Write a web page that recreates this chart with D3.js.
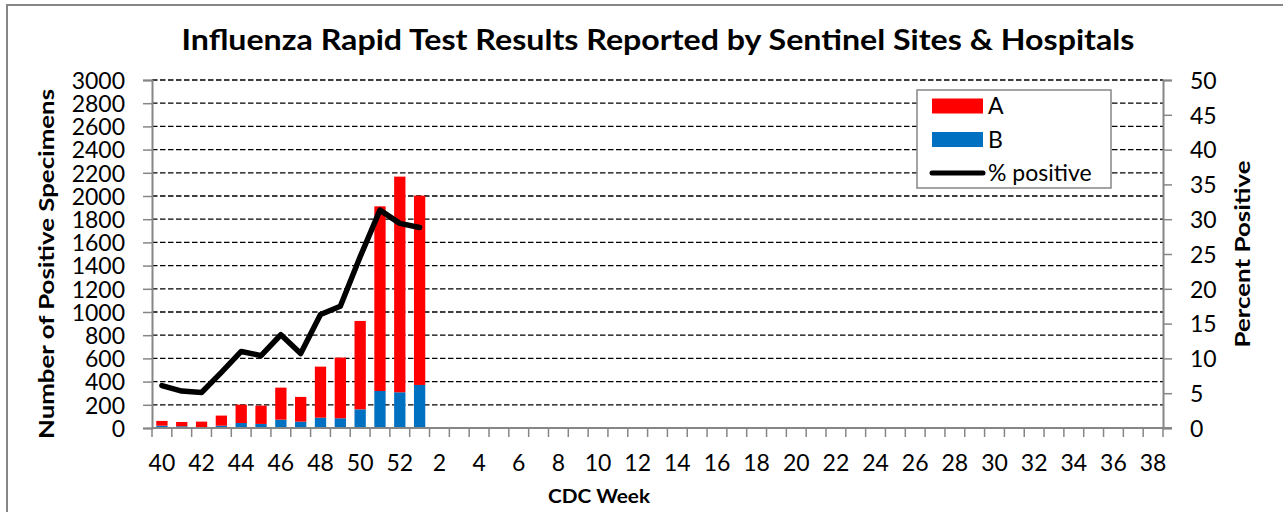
<!DOCTYPE html>
<html>
<head>
<meta charset="utf-8">
<script src="https://cdn.jsdelivr.net/npm/d3@7"></script>
<style>
  body { margin: 0; background: #fff; }
  svg { display: block; font-family: Lato, "Open Sans", sans-serif; }
</style>
</head>
<body>
<svg width="1283" height="512"></svg>
<script>
'use strict';

// CDC weeks of the season (40..52, then 1..38)
const weeks = [40, 41, 42, 43, 44, 45, 46, 47, 48, 49, 50, 51, 52,
    1, 2, 3, 4, 5, 6, 7, 8, 9, 10, 11, 12, 13, 14, 15, 16, 17, 18, 19, 20,
    21, 22, 23, 24, 25, 26, 27, 28, 29, 30, 31, 32, 33, 34, 35, 36, 37, 38];

// reported so far (weeks 40 .. 1)
const fluA = [41, 37, 52, 87, 158, 158, 276, 213, 440, 523, 762, 1592, 1859, 1632];
const fluB = [20, 15, 3, 20, 43, 35, 72, 55, 89, 84, 161, 319, 308, 371];
const pctPositive = [6.1, 5.3, 5.1, 8.0, 11.0, 10.4, 13.4, 10.7, 16.3, 17.5, 24.6, 31.3, 29.4, 28.8];

const countTicks = d3.range(0, 3001, 200);
const pctTicks = d3.range(0, 51, 5);
const weekLabels = weeks.filter((w, i) => i % 2 === 0);

const colors = { a: "#ff0000", b: "#0070c0", line: "#000000", axis: "#868686" };

const svg = d3.select("svg");
const width = +svg.attr("width"), height = +svg.attr("height");
const plot = { left: 152, right: 1163, top: 80, bottom: 428 };

// outer chart border (runs off the right and bottom edge)
svg.append("rect")
    .attr("x", 7).attr("y", 5)
    .attr("width", width + 20).attr("height", height + 20)
    .attr("fill", "none").attr("stroke", colors.axis).attr("stroke-width", 2);

const x = d3.scaleBand().domain(weeks).range([plot.left, plot.right])
    .paddingInner(0.43).paddingOuter(0.215);
const y = d3.scaleLinear().domain([0, 3000]).range([plot.bottom, plot.top]);
const yp = d3.scaleLinear().domain([0, 50]).range([plot.bottom, plot.top]);

const rows = fluA.map((a, i) => ({ week: weeks[i], a: a, b: fluB[i], p: pctPositive[i] }));

// gridlines
svg.append("g")
    .selectAll("line")
    .data(countTicks)
    .join("line")
    .attr("x1", plot.left).attr("x2", plot.right)
    .attr("y1", d => y(d)).attr("y2", d => y(d))
    .attr("stroke", "#000").attr("stroke-width", 1.3)
    .attr("stroke-dasharray", "5.5,2.5");

// stacked bars: B at the bottom, A on top
const stacked = d3.stack().keys(["b", "a"])(rows);
svg.append("g")
    .selectAll("g")
    .data(stacked)
    .join("g")
    .attr("fill", d => colors[d.key])
    .selectAll("rect")
    .data(d => d)
    .join("rect")
    .attr("x", d => x(d.data.week))
    .attr("width", x.bandwidth())
    .attr("y", d => y(d[1]))
    .attr("height", d => y(d[0]) - y(d[1]));

// axes
const leftAxis = svg.append("g")
    .attr("transform", `translate(${plot.left},0)`)
    .call(d3.axisLeft(y).tickValues(countTicks).tickFormat(d3.format("d"))
        .tickSize(9).tickPadding(18));
const rightAxis = svg.append("g")
    .attr("transform", `translate(${plot.right},0)`)
    .call(d3.axisRight(yp).tickValues(pctTicks).tickFormat(d3.format("d"))
        .tickSize(9).tickPadding(18));
const bottomAxis = svg.append("g")
    .attr("transform", `translate(0,${plot.bottom})`)
    .call(d3.axisBottom(x).tickSize(0).tickPadding(27)
        .tickValues(weekLabels));

[leftAxis, rightAxis, bottomAxis].forEach(g => {
    g.select(".domain").attr("stroke", colors.axis).attr("stroke-width", 2);
    g.selectAll(".tick line").attr("stroke", colors.axis).attr("stroke-width", 1.5);
    g.selectAll(".tick text").attr("fill", "#000").style("font-size", "23px")
        .style("font-family", "Lato, sans-serif");
});
leftAxis.selectAll(".tick text").attr("dy", "0.36em");
rightAxis.selectAll(".tick text").attr("dy", "0.36em");
bottomAxis.select(".domain").attr("d", `M${plot.left},0H${plot.right + 9}`);

// tick marks between the week bands
svg.append("g")
    .selectAll("line")
    .data(weeks.map(w => x(w) - x.step() * x.paddingInner() / 2).concat([plot.right]))
    .join("line")
    .attr("x1", d => d).attr("x2", d => d)
    .attr("y1", plot.bottom).attr("y2", plot.bottom + 9)
    .attr("stroke", colors.axis).attr("stroke-width", 1.5);

// percent positive line
const line = d3.line()
    .x(d => x(d.week) + x.bandwidth() / 2)
    .y(d => yp(d.p));
svg.append("path")
    .datum(rows)
    .attr("d", line)
    .attr("fill", "none")
    .attr("stroke", colors.line)
    .attr("stroke-width", 5.5)
    .attr("stroke-linejoin", "round")
    .attr("stroke-linecap", "round");

// titles
svg.append("text")
    .attr("x", 658).attr("y", 50)
    .attr("text-anchor", "middle")
    .attr("font-weight", "bold").attr("font-size", 28)
    .attr("textLength", 953).attr("lengthAdjust", "spacingAndGlyphs")
    .text("Influenza Rapid Test Results Reported by Sentinel Sites & Hospitals");

svg.append("text")
    .attr("transform", "translate(54,264) rotate(-90)")
    .attr("text-anchor", "middle")
    .attr("font-weight", "bold").attr("font-size", 20)
    .attr("textLength", 350).attr("lengthAdjust", "spacingAndGlyphs")
    .text("Number of Positive Specimens");

svg.append("text")
    .attr("transform", "translate(1250,254) rotate(-90)")
    .attr("text-anchor", "middle")
    .attr("font-weight", "bold").attr("font-size", 20)
    .attr("textLength", 187).attr("lengthAdjust", "spacingAndGlyphs")
    .text("Percent Positive");

svg.append("text")
    .attr("x", 599).attr("y", 503)
    .attr("text-anchor", "middle")
    .attr("font-weight", "bold").attr("font-size", 18)
    .attr("textLength", 102).attr("lengthAdjust", "spacingAndGlyphs")
    .text("CDC Week");

// legend
const legend = svg.append("g");
legend.append("rect")
    .attr("x", 917).attr("y", 90).attr("width", 194).attr("height", 98)
    .attr("fill", "#fff").attr("stroke", colors.axis).attr("stroke-width", 1.5);

const legendItems = [
    { label: "A", kind: "bar", color: colors.a },
    { label: "B", kind: "bar", color: colors.b },
    { label: "% positive", kind: "line", color: colors.line }
];
const item = legend.selectAll("g.item")
    .data(legendItems)
    .join("g")
    .attr("class", "item")
    .attr("transform", (d, i) => `translate(932,${106 + i * 33.5})`);

item.filter(d => d.kind === "bar").append("rect")
    .attr("x", 0).attr("y", -7.5).attr("width", 51).attr("height", 15)
    .attr("fill", d => d.color);
item.filter(d => d.kind === "line").append("line")
    .attr("x1", 0).attr("x2", 51)
    .attr("stroke", d => d.color).attr("stroke-width", 5)
    .attr("stroke-linecap", "round");
item.append("text")
    .attr("x", 56).attr("dy", "0.36em")
    .attr("font-size", 23)
    .text(d => d.label);
</script>
</body>
</html>
